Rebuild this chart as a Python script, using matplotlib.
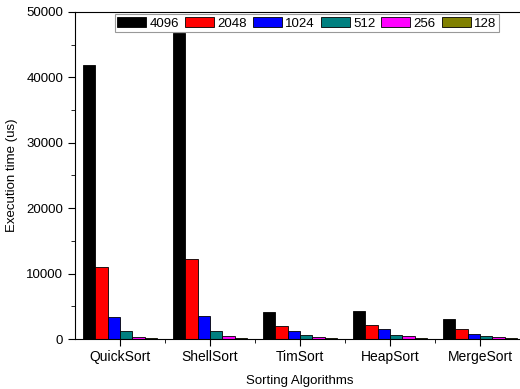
import numpy as np
import matplotlib.pyplot as plt
from matplotlib.ticker import MultipleLocator, FixedLocator

plt.rcParams['font.family'] = ['Liberation Sans', 'DejaVu Sans']
plt.rcParams['font.size'] = 9.5

algorithms = ["QuickSort", "ShellSort", "TimSort", "HeapSort", "MergeSort"]
sizes = ["4096", "2048", "1024", "512", "256", "128"]
colors = ["#000000", "#ff0000", "#0000ff", "#008080", "#ff00ff", "#808000"]

# execution time in microseconds, one list per input size
t4096 = [41900, 46800, 4100, 4330, 3060]
t2048 = [11000, 12200, 1950, 2100, 1580]
t1024 = [3300, 3550, 1230, 1530, 810]
t512 = [1200, 1200, 560, 560, 460]
t256 = [350, 400, 260, 400, 260]
t128 = [100, 150, 100, 100, 100]
series = [t4096, t2048, t1024, t512, t256, t128]

fig = plt.figure(figsize=(5.2, 3.89), dpi=100)
ax = fig.add_axes([75 / 520, 1 - 339 / 389, 450 / 520, 327 / 389])

x = np.arange(1, len(algorithms) + 1)
w = 0.137
for i, (vals, c, lab) in enumerate(zip(series, colors, sizes)):
    ax.bar(x + (i - 2.5) * w, vals, w, color=c, edgecolor="black",
           linewidth=0.6, label=lab)

ax.set_xlim(0.5, 5.5)
ax.set_ylim(0, 50000)
ax.set_xticks(x)
ax.set_xticklabels(algorithms, fontsize=10)
ax.xaxis.set_minor_locator(FixedLocator(x[:-1] + 0.5))
ax.yaxis.set_major_locator(MultipleLocator(10000))
ax.yaxis.set_minor_locator(MultipleLocator(5000))
ax.tick_params(which="both", direction="out")
ax.tick_params(which="major", length=5)
ax.tick_params(which="minor", length=3)
ax.tick_params(axis="x", pad=3)

ax.set_xlabel("Sorting Algorithms", labelpad=8)
ax.set_ylabel("Execution time (us)", labelpad=6)

leg = ax.legend(ncol=6, loc="upper left", bbox_to_anchor=(0.085, 0.997),
                frameon=True, fancybox=False, edgecolor="gray",
                handlelength=2.2, handleheight=0.8, handletextpad=0.25,
                columnspacing=0.45, borderpad=0.2, borderaxespad=0.1,
                fontsize=9.5)
leg.get_frame().set_linewidth(0.8)

fig.savefig("out.png", dpi=100)
